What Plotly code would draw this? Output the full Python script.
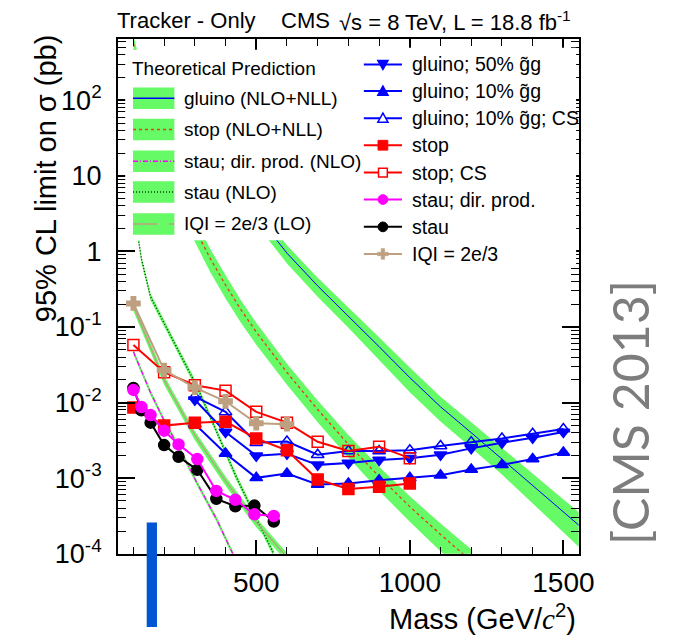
import plotly.graph_objects as go

W, H = 684, 642
# plot frame (pixels)
FX0, FX1, FY0, FY1 = 120.7, 591.7, 40.0, 567.0
FONT = "Liberation Sans, Arial, Helvetica, sans-serif"

GREEN = "rgb(102,250,102)"
BLUE = "rgb(0,0,255)"
RED = "rgb(255,0,0)"
MAGENTA = "rgb(255,0,255)"
TAN = "rgb(190,160,128)"
STOP_TH = "rgb(230,60,20)"
STAU_TH = "rgb(0,60,0)"

# ---------------- observed 95% CL limits (pb) ----------------
gl_mass = [300, 400, 500, 600, 700, 800, 900, 1000, 1100, 1200, 1300, 1400, 1500]
gl_50 = [0.0109, 0.00408, 0.00198, 0.00211, 0.00150, 0.00159, 0.00174, 0.00184,
         0.00204, 0.00248, 0.00294, 0.00342, 0.00408]
gl_10 = [0.00522, 0.00212, 0.00101, 0.00115, 0.000826, 0.000851, 0.00094, 0.00101,
         0.00109, 0.00130, 0.00150, 0.00179, 0.00219]
gl_10_cs = [0.0120, 0.00753, 0.00294, 0.00306, 0.00204, 0.00229, 0.00229, 0.00234,
            0.00266, 0.00300, 0.00335, 0.00388, 0.00447]

stop_mass = [100, 200, 300, 400, 500, 600, 700, 800, 900, 1000]
stop_lim = [0.0086, 0.00496, 0.00543, 0.0056, 0.00335, 0.00234, 0.00096, 0.00072, 0.00077, 0.00085]
stop_cs = [0.0577, 0.0253, 0.0170, 0.0144, 0.00754, 0.00543, 0.00303, 0.00229, 0.00261, 0.00184]

stau_mass = [100, 126, 156, 200, 247, 308, 370, 432, 494, 557]
stau_dir_lim = [0.0147, 0.00875, 0.00684, 0.00425, 0.0028, 0.00179, 0.000678, 0.000518, 0.000332, 0.000316]
stau_lim = [0.0156, 0.0079, 0.00543, 0.00274, 0.00192, 0.00129, 0.000533, 0.000425, 0.000434, 0.000267]

q_mass = [100, 200, 300, 400, 500, 600]
q_lim = [0.205, 0.0269, 0.0158, 0.0104, 0.00533, 0.00518]

# ---------------- theoretical cross sections (pb) and relative uncertainties ----------------
th_gl_mass = [300, 400, 500, 600, 700, 800, 900, 1000, 1100, 1200, 1300, 1400, 1500, 1600]
th_gl = [70.0, 12.6, 3.1, 0.95, 0.35, 0.14, 0.055, 0.0214, 0.0088, 0.0040, 0.0018, 0.00080, 0.00036, 0.00016]
th_gl_unc = [0.24, 0.25, 0.26, 0.27, 0.28, 0.30, 0.33, 0.36, 0.36, 0.37, 0.38, 0.42, 0.46, 0.50]

th_stop_mass = [100, 150, 200, 250, 300, 350, 400, 450, 500, 600, 700, 800, 900, 1000, 1100, 1200]
th_stop = [560, 80, 18.5, 5.6, 2.0, 0.81, 0.36, 0.17, 0.086, 0.025, 0.0081, 0.0028, 0.00105,
           0.00042, 0.00018, 0.00008]
th_stop_unc = [0.30, 0.30, 0.31, 0.32, 0.33, 0.34, 0.34, 0.33, 0.32, 0.31, 0.32, 0.33, 0.35,
               0.37, 0.40, 0.43]

th_stau_dir = [0.047, 0.026, 0.0135, 0.0058, 0.0026, 0.00085, 0.00029, 0.000085, 0.000026, 0.000008]
th_stau_dir_unc = [0.08, 0.08, 0.08, 0.08, 0.08, 0.08, 0.08, 0.08, 0.08, 0.08]

th_stau = [4.0, 0.8, 0.25, 0.11, 0.048, 0.016, 0.0043, 0.0011, 0.00033, 0.0001]
th_stau_unc = [0.10, 0.10, 0.10, 0.10, 0.10, 0.10, 0.10, 0.10, 0.10, 0.10]

th_q = [0.19, 0.020, 0.0037, 0.00092, 0.00026, 0.00009]
th_q_unc = [0.14, 0.14, 0.14, 0.14, 0.14, 0.14]

fig = go.Figure()


def add_band(mass, xs, unc):
    hi = [v * (1 + u) for v, u in zip(xs, unc)]
    lo = [v * (1 - u) for v, u in zip(xs, unc)]
    fig.add_trace(go.Scatter(x=list(mass) + list(mass)[::-1], y=hi + lo[::-1],
                             fill="toself", fillcolor=GREEN, mode="lines",
                             line=dict(width=0), hoverinfo="skip", showlegend=False))


# uncertainty bands
add_band(th_gl_mass, th_gl, th_gl_unc)
add_band(th_stop_mass, th_stop, th_stop_unc)
add_band(stau_mass, th_stau_dir, th_stau_dir_unc)
add_band(stau_mass, th_stau, th_stau_unc)
add_band(q_mass, th_q, th_q_unc)

# central theory curves
TH_LINES = {
    "gl": dict(color=BLUE, width=1),
    "stop": dict(color=STOP_TH, width=1.3, dash="3px,3px"),
    "staudir": dict(color=MAGENTA, width=1.3, dash="5px,2px,1px,2px"),
    "stau": dict(color=STAU_TH, width=1.5, dash="1px,2px"),
    "q": dict(color=TAN, width=1.3),
}
fig.add_trace(go.Scatter(x=th_gl_mass, y=th_gl, mode="lines", line=TH_LINES["gl"], showlegend=False))
fig.add_trace(go.Scatter(x=th_stop_mass, y=th_stop, mode="lines", line=TH_LINES["stop"], showlegend=False))
fig.add_trace(go.Scatter(x=stau_mass, y=th_stau_dir, mode="lines", line=TH_LINES["staudir"], showlegend=False))
fig.add_trace(go.Scatter(x=stau_mass, y=th_stau, mode="lines", line=TH_LINES["stau"], showlegend=False))
fig.add_trace(go.Scatter(x=q_mass, y=th_q, mode="lines", line=TH_LINES["q"], showlegend=False))

# observed limits
series = [
    (gl_mass, gl_50, BLUE, "triangle-down"),
    (gl_mass, gl_10, BLUE, "triangle-up"),
    (gl_mass, gl_10_cs, BLUE, "triangle-up-open"),
    (stop_mass, stop_lim, RED, "square"),
    (stop_mass, stop_cs, RED, "square-open"),
    (q_mass, q_lim, TAN, "cross"),
    (stau_mass, stau_lim, "black", "circle"),
    (stau_mass, stau_dir_lim, MAGENTA, "circle"),
]
for xm, ym, col, sym in series:
    fig.add_trace(go.Scatter(
        x=xm, y=ym, mode="lines+markers",
        line=dict(color=col, width=2),
        marker=dict(symbol=sym, size=11, color=col, line=dict(color=col, width=1.5)),
        showlegend=False, cliponaxis=False))


# ---------------- legends: drawn as shapes in pixel units (paper converted) ----------------
def PX(x):
    return x / W


def PY(y):
    return 1 - y / H


shapes = []


def s_rect(x0, y0, x1, y1, fill, line_col=None, lw=0):
    shapes.append(dict(type="rect", xref="paper", yref="paper", x0=PX(x0), x1=PX(x1),
                       y0=PY(y1), y1=PY(y0), fillcolor=fill, layer="above",
                       line=dict(width=lw, color=line_col or fill)))


def s_line(x0, y0, x1, y1, ln):
    shapes.append(dict(type="line", xref="paper", yref="paper", x0=PX(x0), x1=PX(x1),
                       y0=PY(y0), y1=PY(y1), layer="above", line=ln))


def s_path(pts, fill, col, lw=1.5):
    d = "M " + " L ".join(f"{PX(x):.5f},{PY(y):.5f}" for x, y in pts) + " Z"
    shapes.append(dict(type="path", xref="paper", yref="paper", path=d, fillcolor=fill,
                       layer="above", line=dict(color=col, width=lw)))


def s_marker(sym, cx, cy, col):
    r = 5.2
    if sym == "triangle-down":
        s_path([(cx - r, cy - r * 0.8), (cx + r, cy - r * 0.8), (cx, cy + r)], col, col)
    elif sym == "triangle-up":
        s_path([(cx - r, cy + r * 0.8), (cx + r, cy + r * 0.8), (cx, cy - r)], col, col)
    elif sym == "triangle-up-open":
        s_path([(cx - r, cy + r * 0.8), (cx + r, cy + r * 0.8), (cx, cy - r)], "white", col)
    elif sym == "square":
        s_rect(cx - 5, cy - 5, cx + 5, cy + 5, col, col, 1)
    elif sym == "square-open":
        s_rect(cx - 4.5, cy - 4.5, cx + 4.5, cy + 4.5, "white", col, 1.5)
    elif sym == "circle":
        shapes.append(dict(type="circle", xref="paper", yref="paper", x0=PX(cx - 5), x1=PX(cx + 5),
                           y0=PY(cy + 5), y1=PY(cy - 5), fillcolor=col, layer="above",
                           line=dict(color=col, width=1)))
    elif sym == "cross":
        a, b = 1.8, 5.5
        s_path([(cx - a, cy - b), (cx + a, cy - b), (cx + a, cy - a), (cx + b, cy - a), (cx + b, cy + a),
                (cx + a, cy + a), (cx + a, cy + b), (cx - a, cy + b), (cx - a, cy + a), (cx - b, cy + a),
                (cx - b, cy - a), (cx - a, cy - a)], col, col, 0.5)


# white legend panels hide the curves beneath them
s_rect(128, 51, 369, 246, "white")
s_rect(365, 49, 589, 272, "white")

annots = []


def txt(x, y, text, size=19, xanchor="left", **kw):
    annots.append(dict(x=PX(x), y=PY(y), xref="paper", yref="paper", text=text, showarrow=False,
                       xanchor=xanchor, yanchor=kw.pop("yanchor", "middle"),
                       font=dict(size=size, family=kw.pop("family", FONT), color=kw.pop("color", "black")),
                       **kw))


# left legend (theory)
th_leg = [
    ("gluino (NLO+NLL)", dict(color=BLUE, width=1.5)),
    ("stop (NLO+NLL)", dict(color=STOP_TH, width=1.5, dash="3px,3px")),
    ("stau; dir. prod. (NLO)", dict(color=MAGENTA, width=1.5, dash="5px,2px,1px,2px")),
    ("stau (NLO)", dict(color=STAU_TH, width=1.5, dash="1px,2px")),
    ("IQI = 2e/3 (LO)", dict(color=TAN, width=1.5, dash="24px,12px")),
]
th_leg_y = [100.7, 132.7, 165.0, 196.7, 229.3]
for (label, ln), yc in zip(th_leg, th_leg_y):
    s_rect(136, yc - 11, 178.3, yc + 11, GREEN)
    s_line(136, yc, 178.3, yc, ln)
    txt(186, yc, label)
txt(133, 70, "Theoretical Prediction")

# right legend (limits)
lim_leg = [
    ("gluino; 50% g\u0303g", BLUE, "triangle-down"),
    ("gluino; 10% g\u0303g", BLUE, "triangle-up"),
    ("gluino; 10% g\u0303g; CS", BLUE, "triangle-up-open"),
    ("stop", RED, "square"),
    ("stop; CS", RED, "square-open"),
    ("stau; dir. prod.", MAGENTA, "circle"),
    ("stau", "black", "circle"),
    ("IQI = 2e/3", TAN, "cross"),
]
lim_leg_y = [66.0, 93.3, 121.0, 148.7, 176.7, 204.3, 232.3, 260.0]
for (label, col, sym), yc in zip(lim_leg, lim_leg_y):
    s_line(372, yc, 411, yc, dict(color=col, width=2))
    s_marker(sym, 391.5, yc, col)
    txt(419, yc, label, size=19.5)

# header line
txt(118, 21, "Tracker - Only", size=22)
txt(285, 21, "CMS", size=22)
txt(345, 21, "\u221as = 8 TeV, L = 18.8 fb<sup>-1</sup>", size=22)

# axis titles
txt(47, 33, "95% CL limit on \u03c3 (pb)", size=29, xanchor="center", textangle=-90, yanchor="top")
txt(591, 632, "Mass (GeV/<i><span style=\"font-family:'Liberation Serif'\">c</span></i><sup>2</sup>)",
    size=29, xanchor="right")

# side label
txt(644, 422, "[CMS 2013]", size=50, xanchor="center", textangle=-90,
    family="Lato, sans-serif", color="rgb(125,125,125)")

# blue bar at the bottom
s_rect(150, 535, 160.5, 642, "rgb(0,85,212)")

# ---------------- axes ----------------
ytv = [1e-4, 1e-3, 1e-2, 1e-1, 1, 10, 100]
ytt = ["10<sup>-4</sup>", "10<sup>-3</sup>", "10<sup>-2</sup>", "10<sup>-1</sup>", "1", "10", "10<sup>2</sup>"]
yminor = [k * 10 ** e for e in range(-4, 3) for k in range(2, 10)]

fig.update_layout(
    width=W, height=H, margin=dict(l=0, r=0, t=0, b=0), autosize=False,
    paper_bgcolor="white", plot_bgcolor="white",
    showlegend=False, font=dict(family=FONT, color="black"),
    shapes=shapes, annotations=annots,
    xaxis=dict(domain=[FX0 / W, FX1 / W], range=[50, 1550], showgrid=False, zeroline=False,
               showline=True, linecolor="black", linewidth=2, mirror="ticks",
               ticks="inside", ticklen=14, tickwidth=1.5, tickcolor="black",
               tickvals=[500, 1000, 1500], ticktext=["500", "1000", "1500"],
               tickfont=dict(size=28, family=FONT, color="black"), ticklabelstandoff=3,
               minor=dict(tickvals=[100, 200, 300, 400, 600, 700, 800, 900, 1100, 1200, 1300, 1400],
                          ticks="inside", ticklen=7, tickwidth=1.2, tickcolor="black", showgrid=False)),
    yaxis=dict(domain=[1 - FY1 / H, 1 - FY0 / H], type="log", range=[-4, 2.81], showgrid=False,
               zeroline=False, showline=True, linecolor="black", linewidth=2, mirror="ticks",
               ticks="inside", ticklen=17, tickwidth=1.5, tickcolor="black",
               tickvals=ytv, ticktext=ytt, tickfont=dict(size=27, family=FONT, color="black"),
               ticklabelstandoff=9,
               minor=dict(tickvals=yminor, ticks="inside", ticklen=8, tickwidth=1.2,
                          tickcolor="black", showgrid=False)),
)

fig.write_html("out.html")
